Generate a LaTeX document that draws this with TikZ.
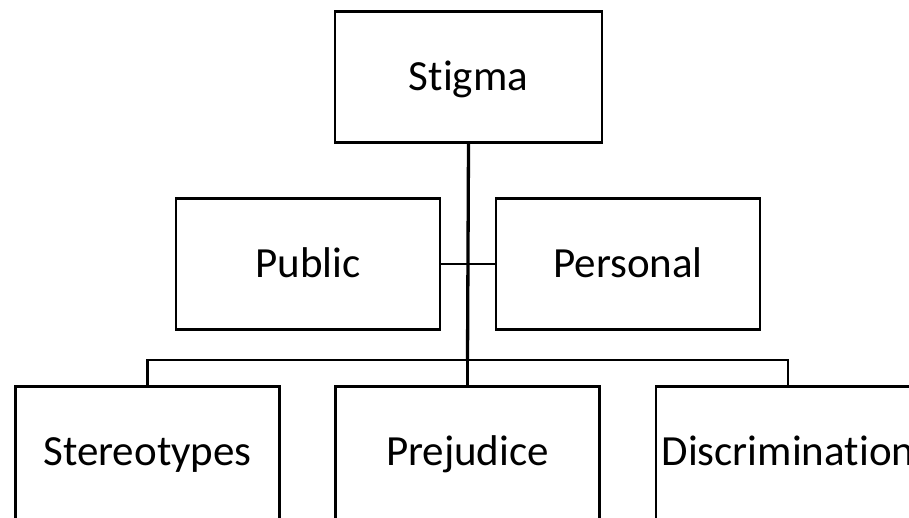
\documentclass[tikz,border=0pt]{standalone}
\usepackage{fontspec}
\setmainfont{Carlito}[Ligatures=NoCommon]
\begin{document}
\begin{tikzpicture}[x=1pt,y=-1pt,
  box/.style={draw, line width=2.3pt, minimum width=264pt, minimum height=131pt, inner sep=0pt, text height=27pt, text depth=0pt, font=\fontsize{43}{50}\selectfont},
  lowbox/.style={box, minimum height=140pt, text depth=9pt},
  conn/.style={line width=2.3pt},
  trunk/.style={line width=3.3pt}]
\useasboundingbox (0,0) rectangle (909,517);
\clip (0,0) rectangle (909,517);
\node[box, minimum width=267pt] (stigma) at (468.5,77) {Stigma};
\node[box] (public) at (308,264) {Public};
\node[box] (personal) at (628,264) {Personal};
\node[lowbox] (stereo) at (147.5,456.5) {Stereotypes};
\node[lowbox] (prej) at (467.5,456.5) {Prejudice};
\node[lowbox] (discrim) at (788,456.5) {Discrimination};
\coordinate (bus) at (467.5,360);
\draw[conn] (public.east) -- (personal.west);
\draw[conn] (stereo.north) |- (bus) -| (discrim.north);
\draw[trunk] (stigma.south) -- (bus);
\draw[conn] (bus) -- (prej.north);
\end{tikzpicture}
\end{document}
